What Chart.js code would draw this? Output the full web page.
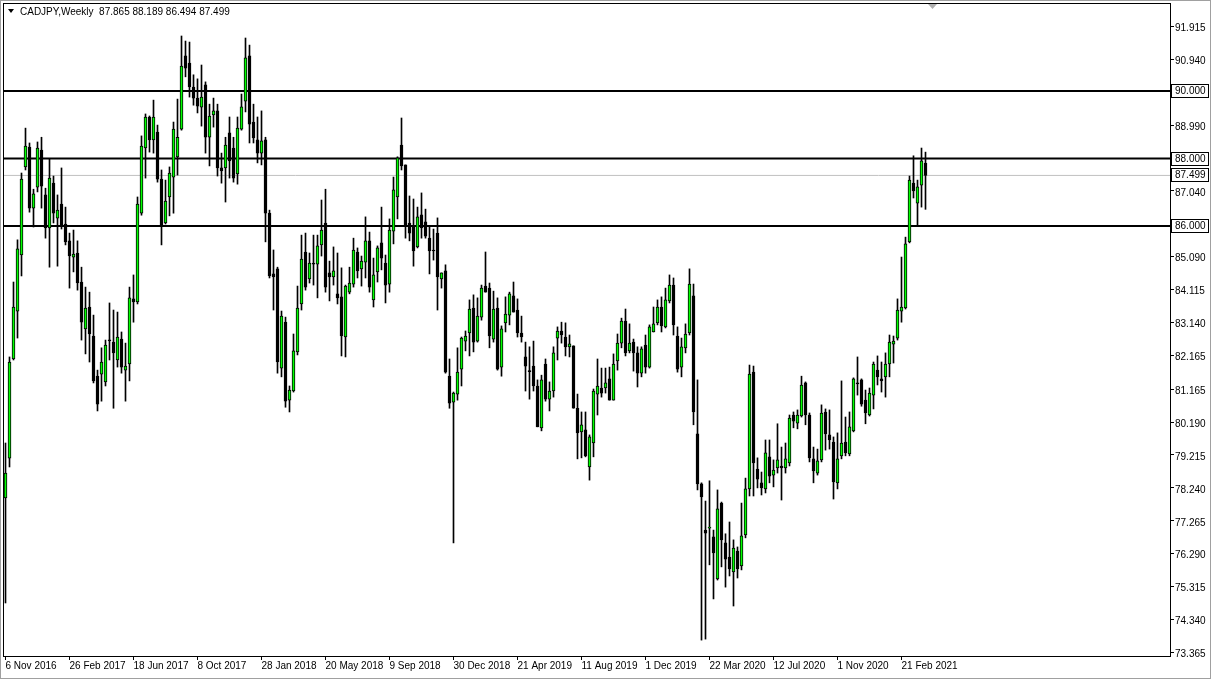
<!DOCTYPE html>
<html><head><meta charset="utf-8">
<script src="https://cdn.jsdelivr.net/npm/chart.js@4/dist/chart.umd.min.js"></script>
<style>html,body{margin:0;padding:0;background:#fff;overflow:hidden}canvas{display:block}</style>
</head><body>
<canvas id="c" width="1211" height="679"></canvas>
<script>
const symbolTitle = "CADJPY,Weekly";
const headerValues = "87.865 88.189 86.494 87.499";

const openP = [77.94,79.12,82.06,83.48,85.14,87.75,88.34,86.53,87.15,88.25,86.92,85.94,87.27,86.23,86.65,86.06,85.56,85.08,85.20,84.34,
82.95,83.60,82.74,81.55,81.61,81.38,82.62,82.56,82.03,82.65,81.73,81.91,83.84,83.75,86.38,88.31,89.23,88.55,88.78,87.39,
86.09,86.86,87.45,88.05,88.87,91.04,90.83,90.12,89.79,89.52,90.18,88.63,89.29,89.41,87.72,87.72,88.76,88.31,87.54,88.87,
89.70,91.04,89.08,88.55,88.16,88.55,86.38,84.58,84.73,81.79,83.15,80.84,81.11,82.27,83.69,85.23,84.43,84.90,84.87,85.44,
86.09,84.61,84.49,83.99,83.90,82.71,84.04,84.28,85.23,84.73,84.93,85.56,83.81,84.64,85.50,84.90,84.28,85.85,86.86,88.40,
87.81,86.09,85.97,85.38,86.33,86.12,85.64,85.29,85.79,84.43,84.67,81.55,80.78,81.02,81.76,82.59,82.83,83.57,82.59,83.30,
84.22,84.16,82.65,83.57,81.82,83.13,83.36,83.93,83.51,82.83,82.12,81.70,81.85,81.26,80.02,81.91,80.87,81.11,82.68,82.89,
82.71,82.42,82.45,80.60,79.90,79.96,78.86,79.57,81.02,81.20,81.20,81.47,80.84,82.00,82.53,83.18,82.30,82.56,82.24,81.64,
82.47,81.82,82.86,83.13,83.60,83.01,83.78,84.25,82.74,81.82,82.39,82.83,83.93,79.84,78.36,76.99,77.05,76.79,75.54,77.79,
76.61,76.19,75.75,76.37,75.93,76.85,78.21,81.67,78.80,78.39,78.21,79.16,78.62,78.83,78.89,78.83,78.98,80.40,80.16,80.37,
81.35,80.40,79.10,78.68,79.07,80.49,79.81,79.60,78.39,79.19,79.60,79.25,79.93,81.35,81.44,80.84,80.40,80.99,81.73,81.47,
81.53,81.91,82.50,82.68,83.48,83.57,85.53,87.27,86.68,87.21,87.865];

const highP = [79.57,82.12,84.34,85.59,87.57,88.90,88.46,87.09,88.49,88.63,87.12,87.98,87.48,86.92,87.72,86.56,85.79,85.88,85.56,84.78,
84.19,84.04,83.36,81.73,82.39,82.62,83.72,83.51,83.45,82.86,82.53,84.19,84.55,86.86,88.67,89.32,89.26,89.73,88.99,87.66,
87.36,87.75,89.08,89.76,91.63,91.48,91.45,90.48,90.36,90.77,90.27,89.61,89.79,89.61,88.16,88.63,89.23,88.63,89.23,89.91,
91.57,91.36,89.61,89.23,89.41,88.63,86.47,85.29,84.78,83.48,83.30,81.26,82.80,84.22,85.73,85.79,85.20,85.73,85.73,86.77,
87.09,84.96,85.38,85.20,84.76,84.25,84.78,85.64,85.35,85.11,86.27,85.82,85.05,85.41,86.56,85.14,86.21,87.45,88.05,89.20,
87.81,86.89,86.80,86.56,86.98,86.50,85.99,85.91,86.24,84.61,84.85,82.06,81.08,82.39,82.71,82.89,83.81,83.96,83.87,84.25,
85.23,84.31,84.07,83.87,83.04,83.90,84.04,84.34,83.84,83.33,82.56,82.42,82.59,81.44,81.58,82.06,81.38,82.42,83.01,83.15,
83.13,82.77,82.45,81.02,80.49,80.49,79.81,81.17,82.06,81.79,81.79,81.82,82.21,82.80,83.27,83.54,83.10,82.65,82.42,82.42,
82.77,83.07,83.60,83.81,83.90,84.16,84.55,84.46,83.01,82.68,83.10,84.73,84.28,81.44,78.39,77.85,78.45,76.99,78.18,77.82,
76.88,77.23,76.70,76.49,77.79,78.53,81.88,81.85,79.13,78.71,79.66,79.66,79.07,80.14,79.45,79.57,80.40,80.49,80.55,81.55,
81.38,80.46,79.45,79.39,80.70,80.58,80.55,79.75,79.87,81.41,80.34,80.49,81.50,82.12,81.47,81.14,81.20,81.97,82.15,81.97,
82.24,82.77,82.74,83.84,85.08,85.67,87.48,88.08,87.36,88.31,88.189];

const lowP = [74.83,78.86,82.03,82.68,84.52,87.66,86.41,85.97,87.01,86.53,85.64,84.78,86.09,84.81,85.91,85.44,84.16,84.64,84.10,82.62,
82.21,81.97,81.35,80.52,80.81,81.26,82.03,80.60,81.82,81.64,80.81,81.41,83.15,83.69,86.32,87.42,88.19,88.16,87.30,85.44,
86.06,86.30,86.38,87.51,88.84,90.42,89.82,89.58,89.35,88.96,88.16,87.78,88.93,87.48,87.27,86.71,87.42,87.30,87.24,88.84,
89.38,88.46,88.46,87.87,87.81,85.53,84.46,83.51,81.64,81.53,80.63,80.49,81.08,82.18,83.51,84.10,84.31,84.25,83.87,85.11,
84.04,83.78,84.25,83.69,82.15,82.12,83.99,84.19,84.46,84.22,84.46,84.04,83.60,84.34,84.70,83.72,84.04,85.47,86.21,87.66,
85.64,85.56,84.81,85.35,85.64,85.64,84.58,84.99,83.51,84.16,81.64,80.60,76.61,80.84,81.26,82.30,82.15,82.27,82.56,83.21,
84.04,82.39,82.56,81.73,81.55,82.86,83.07,83.45,82.71,82.56,81.11,80.87,81.11,80.05,79.93,80.81,80.52,80.93,82.03,82.53,
82.15,82.12,80.60,79.10,79.13,79.16,78.47,79.16,80.40,80.93,81.05,80.84,80.84,81.73,82.39,82.15,82.24,81.70,81.23,81.53,
81.64,81.79,82.86,83.07,82.86,82.98,83.72,82.77,81.67,81.53,82.24,82.77,80.11,78.18,73.73,73.76,75.96,74.95,75.51,75.90,
75.30,75.63,74.74,75.57,75.81,76.76,78.00,78.00,78.24,78.03,78.09,78.39,78.27,78.68,77.88,78.68,78.89,80.02,79.99,80.34,
80.11,79.01,78.39,78.62,79.01,79.36,79.39,77.91,78.21,79.10,79.19,79.19,79.90,80.99,80.66,80.14,80.37,80.58,81.29,81.08,
80.93,81.53,81.94,82.62,83.15,83.54,85.50,86.83,86.03,86.56,86.494];

const closeP = [78.68,81.97,83.60,85.32,87.39,88.37,86.53,86.95,88.31,87.18,85.94,87.42,86.38,86.47,86.03,85.53,85.11,85.17,84.31,83.15,
83.57,82.80,81.41,80.72,81.97,82.47,82.60,82.24,82.71,81.82,81.85,83.87,83.75,86.65,88.37,89.23,88.55,89.23,87.39,86.03,
86.74,87.57,88.87,88.63,90.74,90.68,90.12,89.79,89.55,89.82,88.63,89.26,89.41,87.72,87.63,88.40,87.93,87.42,88.90,89.53,
90.98,89.02,88.61,88.16,88.52,86.38,84.52,84.49,81.97,83.33,80.81,81.14,82.30,83.57,85.02,84.19,84.90,84.87,85.41,85.88,
84.19,84.49,84.67,83.87,82.74,84.22,84.31,85.29,84.67,84.96,85.56,84.19,84.55,85.35,85.05,84.25,85.88,87.07,88.02,87.78,
86.03,85.79,85.26,86.27,85.94,85.70,85.26,85.26,84.49,84.61,81.67,80.75,81.05,81.67,82.68,82.74,83.54,82.56,83.33,84.16,
84.04,82.74,83.54,81.76,82.95,83.39,83.99,83.45,82.83,82.71,81.85,81.70,81.26,80.05,81.44,80.87,81.11,82.24,82.89,82.77,
82.42,82.51,80.60,79.87,80.11,79.19,79.75,81.11,81.26,81.05,81.35,80.84,81.91,82.53,83.18,82.24,82.53,82.24,81.64,82.36,
81.82,83.01,83.10,83.60,83.04,83.81,84.25,83.07,81.76,82.42,82.80,84.28,80.49,78.36,77.97,76.90,77.08,76.31,77.62,76.70,
76.13,75.84,76.46,75.84,76.82,78.21,81.61,78.98,78.50,78.24,79.28,78.59,78.77,79.07,78.83,79.10,80.31,80.22,80.40,81.29,
80.40,79.13,78.74,79.04,80.46,79.84,79.66,78.42,79.10,79.57,79.28,80.05,81.47,81.32,80.72,80.46,81.05,81.91,81.53,81.41,
81.91,82.56,82.59,83.51,83.60,85.47,87.36,87.04,87.16,87.93,87.499];

const tickLabels = ["6 Nov 2016","26 Feb 2017","18 Jun 2017","8 Oct 2017","28 Jan 2018","20 May 2018","9 Sep 2018",
"30 Dec 2018","21 Apr 2019","11 Aug 2019","1 Dec 2019","22 Mar 2020","12 Jul 2020","1 Nov 2020","21 Feb 2021"];
const weeksPerTick = 16;
const priceTicks = [91.915,90.940,88.990,87.040,85.090,84.115,83.140,82.165,81.165,80.190,79.215,78.240,77.265,76.290,75.315,74.340,73.365];
const levels = [90.000, 88.000, 86.000];
const bidPrice = 87.499;

const X_MIN = -0.375, X_MAX = 291.125;
const Y_MIN = 73.259, Y_MAX = 92.578;
const FONT = "'Liberation Sans', Arial, sans-serif";

const wicks = openP.map((o, i) => ({ x: i, y: [lowP[i], highP[i]] }));
const bodies = openP.map((o, i) => {
  let a = Math.min(o, closeP[i]), b = Math.max(o, closeP[i]);
  if (b - a < 0.03) { const m = (a + b) / 2; a = m - 0.015; b = m + 0.015; }
  return { x: i, y: [a, b] };
});
const bodyColors = openP.map((o, i) => closeP[i] > o ? '#00ff00' : '#000000');

const levelSets = levels.map(v => ({
  type: 'line', data: [{ x: X_MIN, y: v }, { x: X_MAX, y: v }],
  borderColor: '#000', borderWidth: 2, pointRadius: 0, order: 5
}));
const bidSet = {
  type: 'line', data: [{ x: X_MIN, y: bidPrice }, { x: X_MAX, y: bidPrice }],
  borderColor: '#c0c0c0', borderWidth: 1, pointRadius: 0, order: 6
};

const decor = {
  id: 'decor',
  beforeDraw(chart) {
    const ctx = chart.ctx;
    ctx.save(); ctx.fillStyle = '#fff'; ctx.fillRect(0, 0, chart.width, chart.height); ctx.restore();
  },
  afterDraw(chart) {
    const { ctx, chartArea: a, scales: { y } } = chart;
    ctx.save();
    ctx.strokeStyle = '#a0a0a0'; ctx.lineWidth = 1;
    ctx.strokeRect(0.5, 0.5, chart.width - 1, chart.height - 1);
    ctx.strokeStyle = '#000';
    ctx.strokeRect(a.left - 0.5, a.top - 0.5, a.right - a.left + 1, a.bottom - a.top + 1);
    ctx.fillStyle = '#000';
    ctx.beginPath(); ctx.moveTo(8, 9); ctx.lineTo(14, 9); ctx.lineTo(11, 13); ctx.closePath(); ctx.fill();
    ctx.font = '10px ' + FONT; ctx.textBaseline = 'middle'; ctx.textAlign = 'left';
    ctx.fillText(symbolTitle + '  ' + headerValues, 20, 12);
    ctx.fillStyle = '#b0b0b0';
    ctx.beginPath(); ctx.moveTo(928, a.top); ctx.lineTo(937, a.top); ctx.lineTo(932.5, a.top + 5); ctx.closePath(); ctx.fill();
    const boxes = levels.concat([bidPrice]);
    boxes.forEach(v => {
      const py = Math.round(y.getPixelForValue(v));
      ctx.fillStyle = '#fff'; ctx.fillRect(a.right + 1, py - 6, 37, 13);
      ctx.strokeStyle = '#000'; ctx.strokeRect(a.right + 1.5, py - 6.5, 37, 13);
      ctx.fillStyle = '#000'; ctx.font = '10px ' + FONT; ctx.textAlign = 'left'; ctx.textBaseline = 'middle';
      ctx.fillText(v.toFixed(3), a.right + 5, py + 0.5);
    });
    ctx.restore();
  }
};

new Chart(document.getElementById('c'), {
  type: 'bar',
  data: {
    datasets: [
      { label: 'bodies', data: bodies, backgroundColor: bodyColors, borderColor: '#000', borderWidth: 1,
        borderSkipped: false, barThickness: 3, grouped: false, order: 1 },
      { label: 'wicks', data: wicks, backgroundColor: '#000', borderWidth: 0, barThickness: 1, grouped: false, order: 2 },
      ...levelSets, bidSet
    ]
  },
  options: {
    responsive: false, animation: false, devicePixelRatio: 1,
    layout: { padding: { left: 4, top: 4, right: 0, bottom: 0 } },
    plugins: { legend: { display: false }, tooltip: { enabled: false } },
    scales: {
      x: {
        type: 'linear', min: X_MIN, max: X_MAX, offset: false,
        afterBuildTicks: s => { s.ticks = tickLabels.map((t, k) => ({ value: k * weeksPerTick })); },
        afterFit: s => { s.height = 23; s.paddingLeft = 0; s.paddingRight = 0; },
        ticks: { autoSkip: false, maxRotation: 0, minRotation: 0, align: 'start', padding: 0, color: '#000',
          font: { family: FONT, size: 10 }, callback: v => tickLabels[Math.round(v / weeksPerTick)] ?? '' },
        grid: { display: true, offset: false, drawOnChartArea: false, drawTicks: true, tickLength: 4, color: '#000' },
        border: { display: true, color: '#000' }
      },
      y: {
        type: 'linear', position: 'right', min: Y_MIN, max: Y_MAX,
        afterBuildTicks: s => { s.ticks = priceTicks.map(v => ({ value: v })); },
        afterFit: s => { s.width = 41; s.paddingTop = 0; s.paddingBottom = 0; },
        ticks: { padding: 1, labelOffset: 2, color: '#000', font: { family: FONT, size: 10 }, callback: v => Number(v).toFixed(3) },
        grid: { display: true, drawOnChartArea: false, drawTicks: true, tickLength: 4, color: '#000' },
        border: { display: true, color: '#000' }
      }
    }
  },
  plugins: [decor]
});
</script>
</body></html>
